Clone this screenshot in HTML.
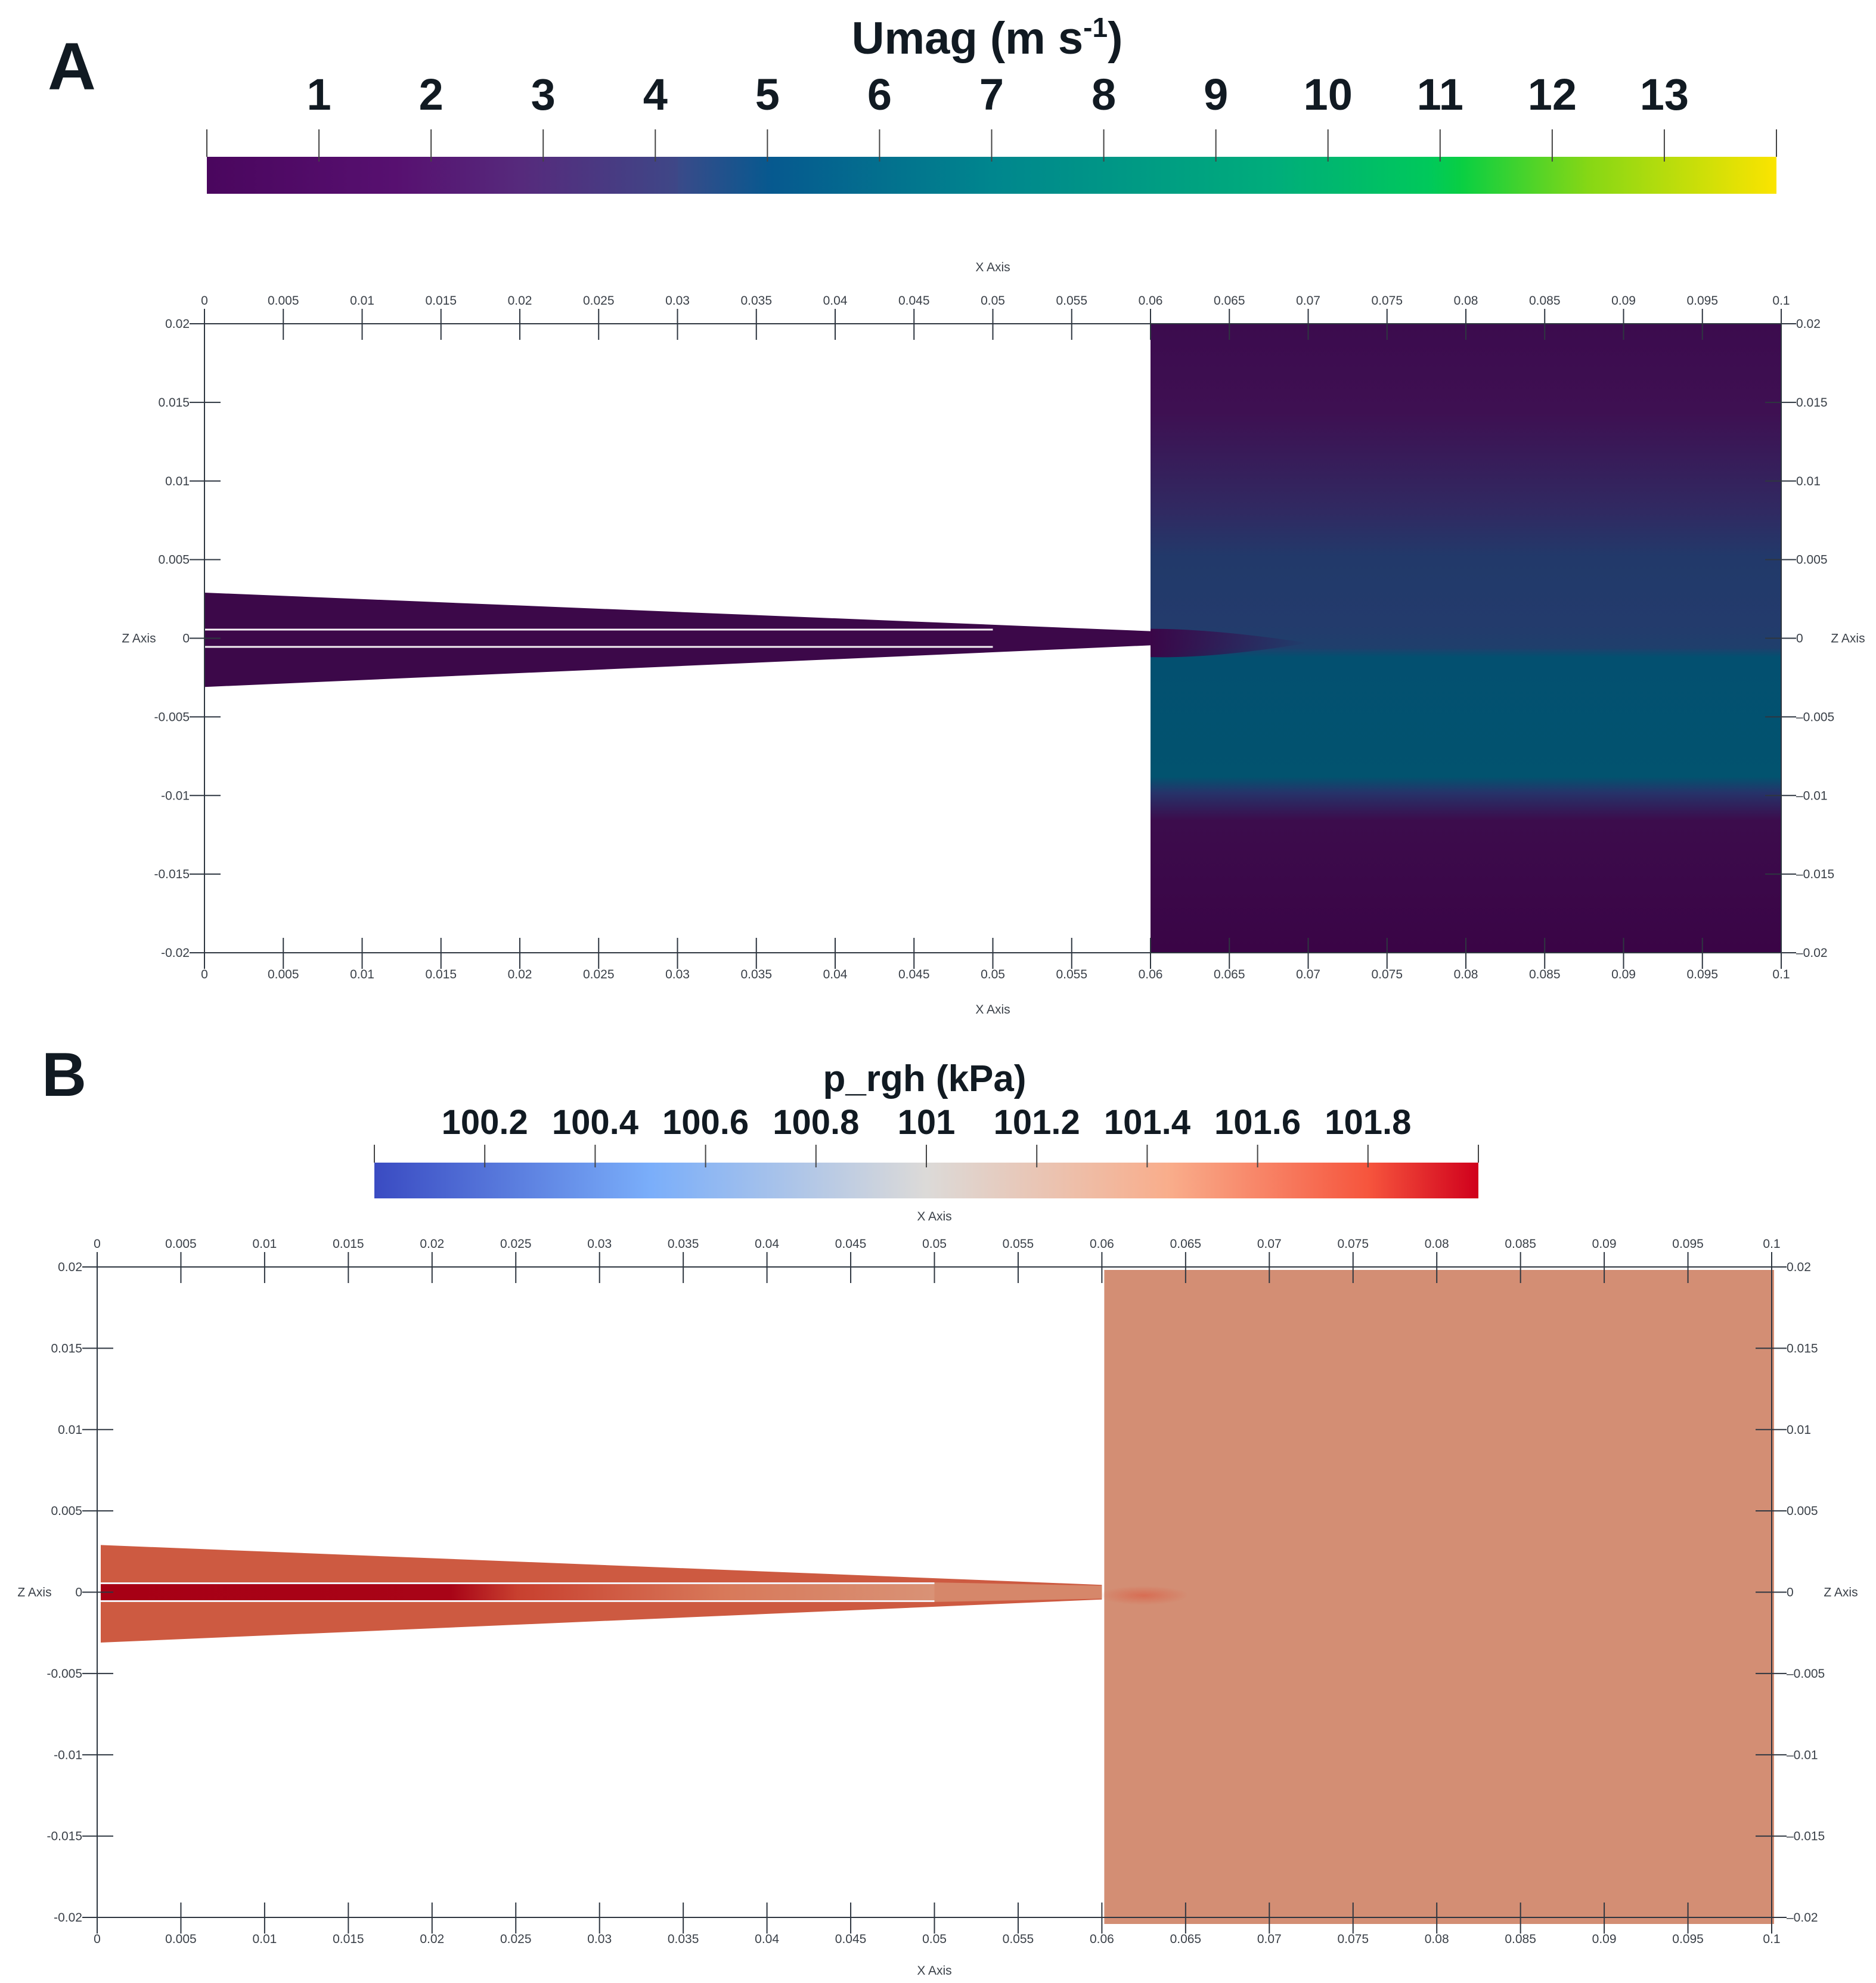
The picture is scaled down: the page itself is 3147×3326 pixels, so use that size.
<!DOCTYPE html>
<html><head><meta charset="utf-8"><style>
html,body{margin:0;padding:0;background:#fff;}
svg{display:block;}
.big{font-family:"Liberation Sans",sans-serif;font-weight:bold;fill:#111a22;}
.tk{font-family:"Liberation Sans",sans-serif;font-size:21px;fill:#3a4048;}
</style></head><body>
<svg id="fig" width="3147" height="3326" viewBox="0 0 3147 3326" xmlns="http://www.w3.org/2000/svg">
<defs>
<linearGradient id="viridis" x1="0" x2="1" y1="0" y2="0">
<stop offset="0" stop-color="#4a065e"/><stop offset="0.12" stop-color="#571070"/>
<stop offset="0.2" stop-color="#562a7c"/><stop offset="0.3" stop-color="#3e4787"/>
<stop offset="0.3" stop-color="#3a4a89"/><stop offset="0.36" stop-color="#06598f"/>
<stop offset="0.5" stop-color="#00868e"/><stop offset="0.68" stop-color="#00ad7b"/>
<stop offset="0.78" stop-color="#00c95a"/><stop offset="0.8" stop-color="#0acf42"/>
<stop offset="0.88" stop-color="#86d715"/><stop offset="1" stop-color="#fbe400"/>
</linearGradient>
<linearGradient id="coolwarm" x1="0" x2="1" y1="0" y2="0">
<stop offset="0" stop-color="#3a4bc2"/><stop offset="0.25" stop-color="#7aaefa"/>
<stop offset="0.5" stop-color="#dcdad8"/><stop offset="0.72" stop-color="#f9ad8b"/>
<stop offset="0.9" stop-color="#f6553d"/><stop offset="1" stop-color="#d0001c"/>
</linearGradient>
<linearGradient id="umagField" x1="0" x2="0" y1="0" y2="1">
<stop offset="0" stop-color="#3c0b4e"/><stop offset="0.14" stop-color="#3e1052"/>
<stop offset="0.3" stop-color="#302a62"/><stop offset="0.37" stop-color="#22396a"/>
<stop offset="0.48" stop-color="#233b6c"/><stop offset="0.515" stop-color="#1f3f6c"/>
<stop offset="0.53" stop-color="#035070"/><stop offset="0.72" stop-color="#02536f"/>
<stop offset="0.745" stop-color="#25346a"/><stop offset="0.79" stop-color="#3c0c4c"/>
<stop offset="1" stop-color="#3a0446"/>
</linearGradient>
<linearGradient id="jetA" x1="0" x2="1" y1="0" y2="0">
<stop offset="0" stop-color="#3a0648" stop-opacity="1"/><stop offset="1" stop-color="#3a0648" stop-opacity="0"/>
</linearGradient>
<linearGradient id="coreB" x1="0" x2="1" y1="0" y2="0">
<stop offset="0" stop-color="#a70015"/><stop offset="0.42" stop-color="#a80417"/>
<stop offset="0.5" stop-color="#c8402f"/><stop offset="0.75" stop-color="#d8795a"/>
<stop offset="1" stop-color="#d99276"/>
</linearGradient>
<radialGradient id="jetB"><stop offset="0" stop-color="#d9654b" stop-opacity="0.8"/><stop offset="1" stop-color="#d9654b" stop-opacity="0"/></radialGradient>
</defs>
<text x="80" y="150" class="big" font-size="112" font-weight="normal">A</text>
<text x="1656" y="90" class="big" font-size="76" text-anchor="middle">Umag (m s<tspan font-size="46" dy="-28">-1</tspan><tspan dy="28">)</tspan></text>
<text x="70" y="1838" class="big" font-size="104" font-weight="normal">B</text>
<text x="1551" y="1830" class="big" font-size="62" text-anchor="middle">p_rgh (kPa)</text>
<g id="gA"></g>
<g id="gB"></g>
</svg>
<script>
// ---- data ----
const umagTicks = [1,2,3,4,5,6,7,8,9,10,11,12,13];
const umagRange = [0,14];
const prghTicks = [100.2,100.4,100.6,100.8,101,101.2,101.4,101.6,101.8];
const prghTickLabels = ["100.2","100.4","100.6","100.8","101","101.2","101.4","101.6","101.8"];
const prghRange = [100.0,102.0];
const xTicks = [0,0.005,0.01,0.015,0.02,0.025,0.03,0.035,0.04,0.045,0.05,0.055,0.06,0.065,0.07,0.075,0.08,0.085,0.09,0.095,0.1];
const xTickLabels = ["0","0.005","0.01","0.015","0.02","0.025","0.03","0.035","0.04","0.045","0.05","0.055","0.06","0.065","0.07","0.075","0.08","0.085","0.09","0.095","0.1"];
const zTicks = [0.02,0.015,0.01,0.005,0,-0.005,-0.01,-0.015,-0.02];
const zTickLabels = ["0.02","0.015","0.01","0.005","0","-0.005","-0.01","-0.015","-0.02"];
// geometry in data units
const chamberX = [0.06,0.1];
const chamberZ = [-0.02,0.02];
const nozzleX = [0,0.06];
const nozzleTopZ = [0.0029,0.00045];
const nozzleBotZ = [-0.0031,-0.00045];
const coreX = [0,0.05];
const coreZ = [0.00055,-0.00055];

const NS = "http://www.w3.org/2000/svg";
function mk(parent, tag, attrs, name, text){
  const el = document.createElementNS(NS, tag);
  for (const k in attrs) el.setAttribute(k, attrs[k]);
  
  
  if (text !== undefined) el.textContent = text;
  parent.appendChild(el);
  return el;
}
const fig = document.getElementById('fig');

function colorbar(cfg){
  const g = mk(fig,'g',{},cfg.name);
  const sx = v => cfg.x0 + (v - cfg.range[0])/(cfg.range[1]-cfg.range[0])*(cfg.x1-cfg.x0);
  mk(g,'rect',{x:cfg.x0,y:cfg.y0,width:cfg.x1-cfg.x0,height:cfg.y1-cfg.y0,fill:cfg.grad},'colorbar-gradient');
  [cfg.range[0],cfg.range[1]].forEach(v=>{
    mk(g,'line',{x1:sx(v),x2:sx(v),y1:cfg.tickTop,y2:cfg.y0,stroke:'#444',"stroke-width":2},'colorbar-end-tick');
  });
  cfg.ticks.forEach((v,i)=>{
    mk(g,'line',{x1:sx(v),x2:sx(v),y1:cfg.tickTop,y2:cfg.y0+8,stroke:'#444',"stroke-width":2},'colorbar-tick');
    mk(g,'text',{x:sx(v),y:cfg.labelY,class:'big',"font-size":cfg.fs,"text-anchor":"middle"},'colorbar-tick-label',cfg.labels[i]);
  });
}
colorbar({name:'umag-colorbar',x0:347,x1:2980,y0:263,y1:325,tickTop:217,range:umagRange,ticks:umagTicks,labels:umagTicks.map(String),labelY:184,fs:74,grad:'url(#viridis)'});
colorbar({name:'prgh-colorbar',x0:628,x1:2480,y0:1950,y1:2010,tickTop:1920,range:prghRange,ticks:prghTicks,labels:prghTickLabels,labelY:1902,fs:58,grad:'url(#coolwarm)'});

function plot(g, c){
  const sx = v => c.x0 + v/0.1*(c.x1-c.x0);
  const sz = v => c.yMid - v/0.02*(c.yMid-c.yTop);
  if (c.kind==='A'){
    mk(g,'rect',{x:sx(chamberX[0]),y:sz(chamberZ[1]),width:sx(chamberX[1])-sx(chamberX[0]),height:sz(chamberZ[0])-sz(chamberZ[1]),fill:'url(#umagField)'},'chamber-field');
    mk(g,'path',{d:`M${sx(0.06)} ${sz(0.0006)} Q${sx(0.064)} ${sz(0.0006)} ${sx(0.07)} ${sz(-0.0003)} Q${sx(0.064)} ${sz(-0.0013)} ${sx(0.06)} ${sz(-0.0012)} Z`,fill:'url(#jetA)'},'jet-plume');
  } else {
    mk(g,'rect',{x:sx(chamberX[0])+4,y:sz(chamberZ[1])+5,width:sx(chamberX[1])-sx(chamberX[0]),height:sz(chamberZ[0])-sz(chamberZ[1])+6,fill:'#d38e74'},'chamber-field');
    mk(g,'ellipse',{cx:sx(0.0625),cy:sz(-0.0002),rx:75,ry:16,fill:'url(#jetB)'},'jet-plume');
  }
  const nozzle = `M${sx(nozzleX[0])+c.nx} ${sz(nozzleTopZ[0])} L${sx(nozzleX[1])} ${sz(nozzleTopZ[1])} L${sx(nozzleX[1])} ${sz(nozzleBotZ[1])} L${sx(nozzleX[0])+c.nx} ${sz(nozzleBotZ[0])} Z`;
  mk(g,'path',{d:nozzle,fill:c.nozzleFill},'nozzle');
  if (c.kind==='B'){
    mk(g,'rect',{x:sx(coreX[0])+c.nx,y:sz(coreZ[0]),width:sx(coreX[1])-sx(coreX[0])-c.nx,height:sz(coreZ[1])-sz(coreZ[0]),fill:'url(#coreB)'},'nozzle-core');
    mk(g,'path',{d:`M${sx(0.05)} ${sz(0.0006)} L${sx(0.06)} ${sz(0.0004)} L${sx(0.06)} ${sz(-0.0004)} L${sx(0.05)} ${sz(-0.0006)} Z`,fill:'#d6876a'},'nozzle-tip');
  }
  [coreZ[0],coreZ[1]].forEach(z=>{
    mk(g,'line',{x1:sx(coreX[0])+c.nx,x2:sx(coreX[1]),y1:sz(z),y2:sz(z),stroke:'#f4f0f4',"stroke-width":3},'nozzle-wall-line');
  });
  const ax = '#2e3640';
  mk(g,'line',{x1:c.x0,x2:c.x1,y1:c.yTop,y2:c.yTop,stroke:ax,"stroke-width":2},'x-axis-top');
  mk(g,'line',{x1:c.x0,x2:c.x1,y1:c.yBot,y2:c.yBot,stroke:ax,"stroke-width":2},'x-axis-bottom');
  mk(g,'line',{x1:c.x0,x2:c.x0,y1:c.yTop,y2:c.yBot,stroke:ax,"stroke-width":2},'z-axis-left');
  mk(g,'line',{x1:c.x1,x2:c.x1,y1:c.yTop,y2:c.yBot,stroke:ax,"stroke-width":2},'z-axis-right');
  xTicks.forEach((v,i)=>{
    const x = sx(v);
    [c.yTop,c.yBot].forEach(y=>{
      mk(g,'line',{x1:x,x2:x,y1:y-25,y2:y+27,stroke:ax,"stroke-width":2},'x-tick');
    });
    mk(g,'text',{x:x,y:c.yTop-32,class:'tk',"text-anchor":"middle"},'x-tick-label-top',xTickLabels[i]);
    mk(g,'text',{x:x,y:c.yBot+43,class:'tk',"text-anchor":"middle"},'x-tick-label-bottom',xTickLabels[i]);
  });
  zTicks.forEach((v,i)=>{
    const y = sz(v);
    mk(g,'line',{x1:c.x0-25,x2:c.x0+27,y1:y,y2:y,stroke:ax,"stroke-width":2},'z-tick-left');
    mk(g,'line',{x1:c.x1-27,x2:c.x1+25,y1:y,y2:y,stroke:ax,"stroke-width":2},'z-tick-right');
    mk(g,'text',{x:c.x0-25,y:y+7,class:'tk',"text-anchor":"end"},'z-tick-label-left',zTickLabels[i]);
    mk(g,'text',{x:c.x1+25,y:y+7,class:'tk',"text-anchor":"start"},'z-tick-label-right',zTickLabels[i].replace('-','\u2013'));
  });
  mk(g,'text',{x:(c.x0+c.x1)/2,y:c.xTitleTop,class:'tk',"text-anchor":"middle"},'x-axis-title-top','X Axis');
  mk(g,'text',{x:(c.x0+c.x1)/2,y:c.xTitleBot,class:'tk',"text-anchor":"middle"},'x-axis-title-bottom','X Axis');
  mk(g,'text',{x:c.zl,y:c.yMid+7,class:'tk',"text-anchor":"middle"},'z-axis-title-left','Z Axis');
  mk(g,'text',{x:c.zr,y:c.yMid+7,class:'tk',"text-anchor":"middle"},'z-axis-title-right','Z Axis');
}
plot(document.getElementById('gA'),{kind:'A',x0:343,x1:2988,yTop:543,yBot:1598,yMid:1070.5,nx:0,nozzleFill:'#3c0849',xTitleTop:455,xTitleBot:1700,zl:233,zr:3100});
plot(document.getElementById('gB'),{kind:'B',x0:163,x1:2972,yTop:2125,yBot:3216,yMid:2670.5,nx:6,nozzleFill:'#cd5a41',xTitleTop:2047,xTitleBot:3312,zl:58,zr:3088});
</script>
</body></html>
